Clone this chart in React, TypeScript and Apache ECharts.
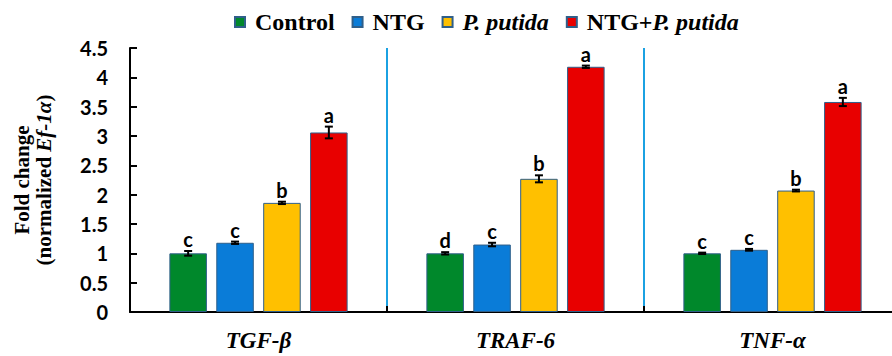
import React, { useEffect, useRef } from "react";
import * as echarts from "echarts";

const genes = ["TGF-β", "TRAF-6", "TNF-α"];
const seriesNames = ["Control", "NTG", "P. putida", "NTG+P. putida"];
const colors = ["#00882B", "#0A7CD8", "#FFC000", "#E80000"];
const controlVals = [1.0, 1.0, 1.0];
const ntgVals = [1.18, 1.15, 1.06];
const putidaVals = [1.86, 2.27, 2.07];
const comboVals = [3.06, 4.18, 3.58];
const controlErr = [0.04, 0.02, 0.012];
const ntgErr = [0.02, 0.03, 0.015];
const putidaErr = [0.02, 0.06, 0.015];
const comboErr = [0.1, 0.02, 0.07];
const controlLetters = ["c", "d", "c"];
const ntgLetters = ["c", "c", "c"];
const putidaLetters = ["b", "b", "b"];
const comboLetters = ["a", "a", "a"];
const yTicks = [0, 0.5, 1, 1.5, 2, 2.5, 3, 3.5, 4, 4.5];

const allVals = [controlVals, ntgVals, putidaVals, comboVals];
const allErr = [controlErr, ntgErr, putidaErr, comboErr];
const allLetters = [controlLetters, ntgLetters, putidaLetters, comboLetters];

const BAR_W = 0.146;
const BAR_GAP = 0.25;

export default function App() {
  const ref = useRef<HTMLDivElement>(null);
  useEffect(() => {
    if (!ref.current) return;
    const chart = echarts.init(ref.current, null, { renderer: "svg" });
    const errData: any[] = [];
    allVals.forEach((vals, s) => {
      vals.forEach((v, c) => {
        errData.push([c, v, allErr[s][c], s, allLetters[s][c]]);
      });
    });
    const barSeries = allVals.map((vals, s) => ({
      name: seriesNames[s],
      type: "bar",
      data: vals,
      barWidth: BAR_W * 100 + "%",
      barGap: BAR_GAP * 100 + "%",
      itemStyle: { color: colors[s], borderColor: "#2F5F8A", borderWidth: 1 },
      z: 2,
    }));
    const serifB = { fontFamily: "Liberation Serif", fontWeight: "bold", fontSize: 24, color: "#000" };
    const serifI = { ...serifB, fontStyle: "italic" };
    const option: any = {
      animation: false,
      grid: { left: 130, right: -9, top: 48, bottom: 44, outerBoundsMode: "none", containLabel: false },
      legend: {
        data: seriesNames,
        top: 5,
        left: 229,
        itemWidth: 10,
        itemHeight: 10,
        itemGap: 17,
        icon: "rect",
        formatter: (name: string) => {
          if (name === "P. putida") return "{i0|P. putida}";
          if (name === "NTG+P. putida") return "{b0|NTG+}{i|P. putida}";
          return "{b0|" + name + "}";
        },
        textStyle: {
          rich: {
            b0: { ...serifB, padding: [0, 0, 0, 5] },
            i0: { ...serifI, padding: [0, 0, 0, 5] },
            b: serifB,
            i: serifI,
          },
        },
      },
      xAxis: {
        type: "category",
        data: genes,
        axisLine: { lineStyle: { color: "#000", width: 2 } },
        axisTick: { show: true, inside: true, length: 6, lineStyle: { color: "#000", width: 2 } },
        axisLabel: {
          margin: 17,
          fontFamily: "Liberation Serif",
          fontWeight: "bold",
          fontStyle: "italic",
          fontSize: 23,
          color: "#000",
        },
        splitLine: {
          show: true,
          interval: (i: number) => i > 0,
          lineStyle: { color: "#1BA1E2", width: 2 },
        },
      },
      yAxis: {
        type: "value",
        min: 0,
        max: 4.5,
        interval: 0.5,
        name: "{n|Fold change}\n{n|(normalized }{i|Ef-1α}{n|)}",
        nameLocation: "middle",
        nameRotate: 90,
        nameGap: 75,
        nameTextStyle: {
          rich: {
            n: { fontFamily: "Liberation Serif", fontWeight: "bold", fontSize: 21, color: "#000", lineHeight: 22 },
            i: { fontFamily: "Liberation Serif", fontWeight: "bold", fontStyle: "italic", fontSize: 21, color: "#000", lineHeight: 22 },
          },
        },
        axisLine: { show: true, lineStyle: { color: "#000", width: 2 } },
        axisTick: { show: true, inside: true, length: 7, lineStyle: { color: "#000", width: 2 } },
        axisLabel: {
          margin: 22,
          fontFamily: "Lato",
          fontWeight: "bold",
          fontSize: 20,
          color: "#000",
          formatter: (v: number) => (yTicks.includes(v) ? String(v) : ""),
        },
        splitLine: { show: false },
      },
      series: [
        ...barSeries,
        {
          type: "custom",
          name: "err",
          data: errData,
          z: 5,
          renderItem: (params: any, api: any) => {
            const c = api.value(0);
            const v = api.value(1);
            const e = api.value(2);
            const s = api.value(3);
            const letter = errData[params.dataIndex][4];
            const band = api.size([1, 0])[0];
            const pitch = band * BAR_W * (1 + BAR_GAP);
            const center = api.coord([c, 0])[0];
            const x = center + (s - 1.5) * pitch;
            const top = api.coord([c, v + e])[1];
            const bot = api.coord([c, v - e])[1];
            const cap = 4;
            const st = { stroke: "#000", lineWidth: 2 };
            return {
              type: "group",
              children: [
                { type: "line", shape: { x1: x, y1: top, x2: x, y2: bot }, style: st },
                { type: "line", shape: { x1: x - cap, y1: top, x2: x + cap, y2: top }, style: st },
                { type: "line", shape: { x1: x - cap, y1: bot, x2: x + cap, y2: bot }, style: st },
                {
                  type: "text",
                  x: x,
                  y: top - 2,
                  style: {
                    text: letter,
                    fontFamily: "Lato",
                    fontWeight: "bold",
                    fontSize: 20,
                    fill: "#000",
                    align: "center",
                    verticalAlign: "bottom",
                  },
                },
              ],
            };
          },
        },
      ],
    };
    chart.setOption(option);
    return () => chart.dispose();
  }, []);
  return <div ref={ref} style={{ width: 892, height: 356, position: "absolute", left: 0, top: 0 }} />;
}
